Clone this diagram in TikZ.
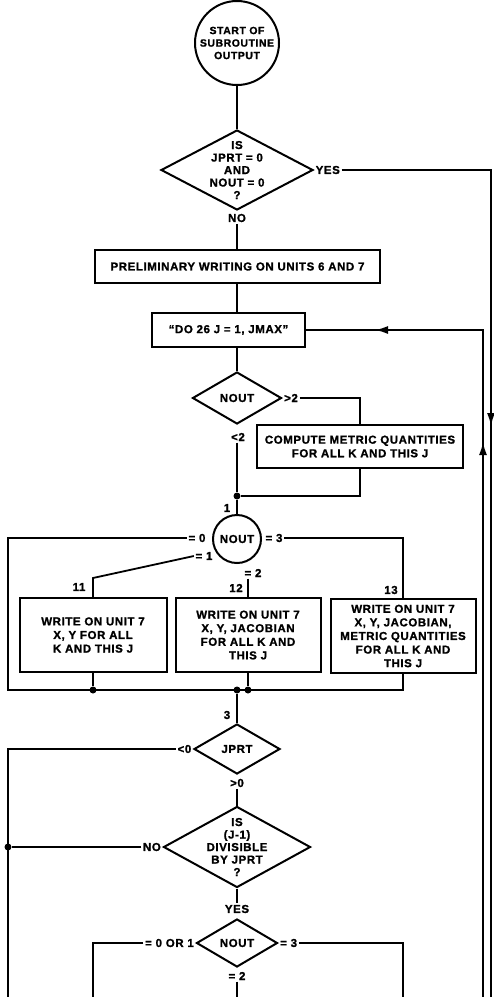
\documentclass[tikz,border=0pt]{standalone}
\usepackage{fontspec}
\setmainfont{Liberation Sans}[LetterSpace=5.0, BoldFeatures={FakeBold=1.2}]
\usetikzlibrary{arrows.meta,decorations.markings,shapes.geometric}
\begin{document}
\begin{tikzpicture}[x=1pt,y=-1pt,
  ln/.style={line width=1.8pt},
  bx/.style={draw, line width=2pt, rectangle, inner sep=0pt},
  dia/.style={draw, diamond, line width=2pt, inner sep=0pt},
  rnd/.style={draw, circle, line width=2pt, inner sep=0pt},
  tx/.style={font=\bfseries\fontsize{11.5}{13.6}\selectfont, align=center, inner sep=0pt},
  tt/.style={font=\bfseries\fontsize{11.5}{12.5}\selectfont, align=center, inner sep=0pt},
  tc/.style={font=\bfseries\fontsize{10.5}{12.5}\selectfont, align=center, inner sep=0pt},
  lb/.style={font=\bfseries\fontsize{11.5}{12}\selectfont, inner sep=1.5pt},
  jd/.style={circle, fill, inner sep=0pt, minimum size=7pt},
  arrtip/.style={-{Latex[length=13pt,width=8pt]}}
]
\fill[white] (0,0) rectangle (494,997);
\useasboundingbox (0,0) rectangle (494,997);

% nodes
\node[rnd, minimum size=84pt] (start) at (237,43) {};
\node[tc] (tstart) at (start) {START OF\\SUBROUTINE\\OUTPUT};
\node[dia, minimum width=152pt, minimum height=80pt] (d1) at (237,170) {};
\node[tt] (td1) at (d1) {IS\\JPRT = 0\\AND\\NOUT = 0\\?};
\node[lb] (no1) at (237,218) {NO};
\node[lb, anchor=west] (yes1) at (d1.east) {YES};
\node[bx, tx, minimum width=285pt, minimum height=33pt] (pre) at (237.5,266.5) {PRELIMINARY WRITING ON UNITS 6 AND 7};
\node[bx, tx, minimum width=153pt, minimum height=34pt] (do) at (228.5,330) {“DO 26 J = 1, JMAX”};
\node[dia, minimum width=89pt, minimum height=52pt] (d2) at (237,398) {};
\node[tx] (td2) at (d2) {NOUT};
\node[lb, anchor=west] (gt2) at (d2.east) {>2};
\node[bx, tx, minimum width=206pt, minimum height=43pt] (comp) at (360,446.5) {COMPUTE METRIC QUANTITIES\\FOR ALL K AND THIS J};
\node[lb] (lt2) at (238,437) {<2};
\node[jd] (j1) at (237,496) {};
\node[lb] (n1) at (227,508) {1};
\node[rnd, minimum size=48pt] (c2) at (237,539) {};
\node[tx] (tc2) at (c2) {NOUT};
\node[lb] (eq0) at (197,538) {= 0};
\node[lb] (eq3) at (274,538) {= 3};
\node[lb] (eq1) at (204,556) {= 1};
\node[lb] (eq2) at (253,573) {= 2};
\node[lb] (l11) at (79,587) {11};
\node[lb] (l12) at (236,588) {12};
\node[lb] (l13) at (391,590) {13};
\node[bx, tx, minimum width=147pt, minimum height=74pt] (b11) at (93,635) {WRITE ON UNIT 7\\X, Y FOR ALL\\K AND THIS J};
\node[bx, tx, minimum width=145pt, minimum height=74pt] (b12) at (248,635) {WRITE ON UNIT 7\\X, Y, JACOBIAN\\FOR ALL K AND\\THIS J};
\node[bx, tx, minimum width=145pt, minimum height=74pt] (b13) at (403,636) {WRITE ON UNIT 7\\X, Y, JACOBIAN,\\METRIC QUANTITIES\\FOR ALL K AND\\THIS J};
\node[jd] (j2) at (93,690) {};
\node[jd] (j3) at (237,690) {};
\node[jd] (j4) at (248,690) {};
\node[lb] (n3) at (227,715) {3};
\node[dia, minimum width=86pt, minimum height=50pt] (jprt) at (237,749) {};
\node[tx] (tjprt) at (jprt) {JPRT};
\node[lb, anchor=east] (lt0) at (jprt.west) {<0};
\node[lb] (gt0) at (237,783) {>0};
\node[dia, minimum width=147pt, minimum height=81pt] (div) at (237,847) {};
\node[tt] (tdiv) at (div) {IS\\(J-1)\\DIVISIBLE\\BY JPRT\\?};
\node[lb, anchor=east] (no2) at (div.west) {NO};
\node[jd] (j5) at (8,847) {};
\node[lb] (yes2) at (237,909) {YES};
\node[dia, minimum width=81pt, minimum height=48pt] (d5) at (237,943) {};
\node[tx] (td5) at (d5) {NOUT};
\node[lb, anchor=east] (eq01) at (d5.west) {= 0 OR 1};
\node[lb, anchor=west] (eq3b) at (d5.east) {= 3};
\node[lb] (eq2b) at (237,976) {= 2};

% free-end coordinates
\coordinate (yr) at (491,170);
\coordinate (yb) at (491,997);
\coordinate (ya) at (491,426);
\coordinate (lr) at (483,330);
\coordinate (loopb) at (483,997);
\coordinate (la) at (483,442);
\coordinate (lc) at (375,330);
\coordinate (l0) at (8,538);
\coordinate (l0b) at (8,690);
\coordinate (k1) at (93,578);
\coordinate (r3) at (403,538);
\coordinate (lt0c) at (8,749);
\coordinate (lt0b) at (8,997);
\coordinate (o1) at (93,943);
\coordinate (o1b) at (93,997);
\coordinate (o3) at (403,943);
\coordinate (o3b) at (403,997);
\coordinate (o2b) at (237,997);

% connectors
\draw[ln] (start) -- (d1);
\draw[ln] (no1) -- (pre.north -| no1);
\draw[ln] (pre.south -| d2.north) -- (do.north -| d2.north);
\draw[ln] (do.south -| d2.north) -- (d2.north);
\draw[ln] (yes1) -- (yr) -- (yb);
\draw[ln, arrtip] (yr) -- (ya);
\draw[ln] (loopb) -- (lr) -- (do.east);
\draw[ln, arrtip] (loopb) -- (la);
\draw[ln, arrtip] (lr) -- (lc);
\draw[ln] (gt2) -- (gt2 -| comp.north) -- (comp.north);
\draw[ln] (lt2.south -| j1) -- (j1);
\draw[ln] (comp.south) -- (comp.south |- j1) -- (j1);
\draw[ln] (j1) -- (c2);
\draw[ln] (eq0) -- (l0) -- (l0b) -- (l0b -| b13.south) -- (b13.south);
\draw[ln] (eq3) -- (r3) -- (b13.north);
\draw[ln] (eq1.west) -- (k1) -- (b11.north);
\draw[ln] (eq2.south -| b12.north) -- (b12.north);
\draw[ln] (b11.south) -- (j2);
\draw[ln] (b12.south) -- (j4);
\draw[ln] (j3) -- (jprt);
\draw[ln] (lt0) -- (lt0c) -- (lt0b);
\draw[ln] (gt0) -- (div);
\draw[ln] (no2) -- (j5);
\draw[ln] (div) -- (yes2);
\draw[ln] (eq01) -- (o1) -- (o1b);
\draw[ln] (eq3b) -- (o3) -- (o3b);
\draw[ln] (eq2b) -- (o2b);
\end{tikzpicture}
\end{document}
